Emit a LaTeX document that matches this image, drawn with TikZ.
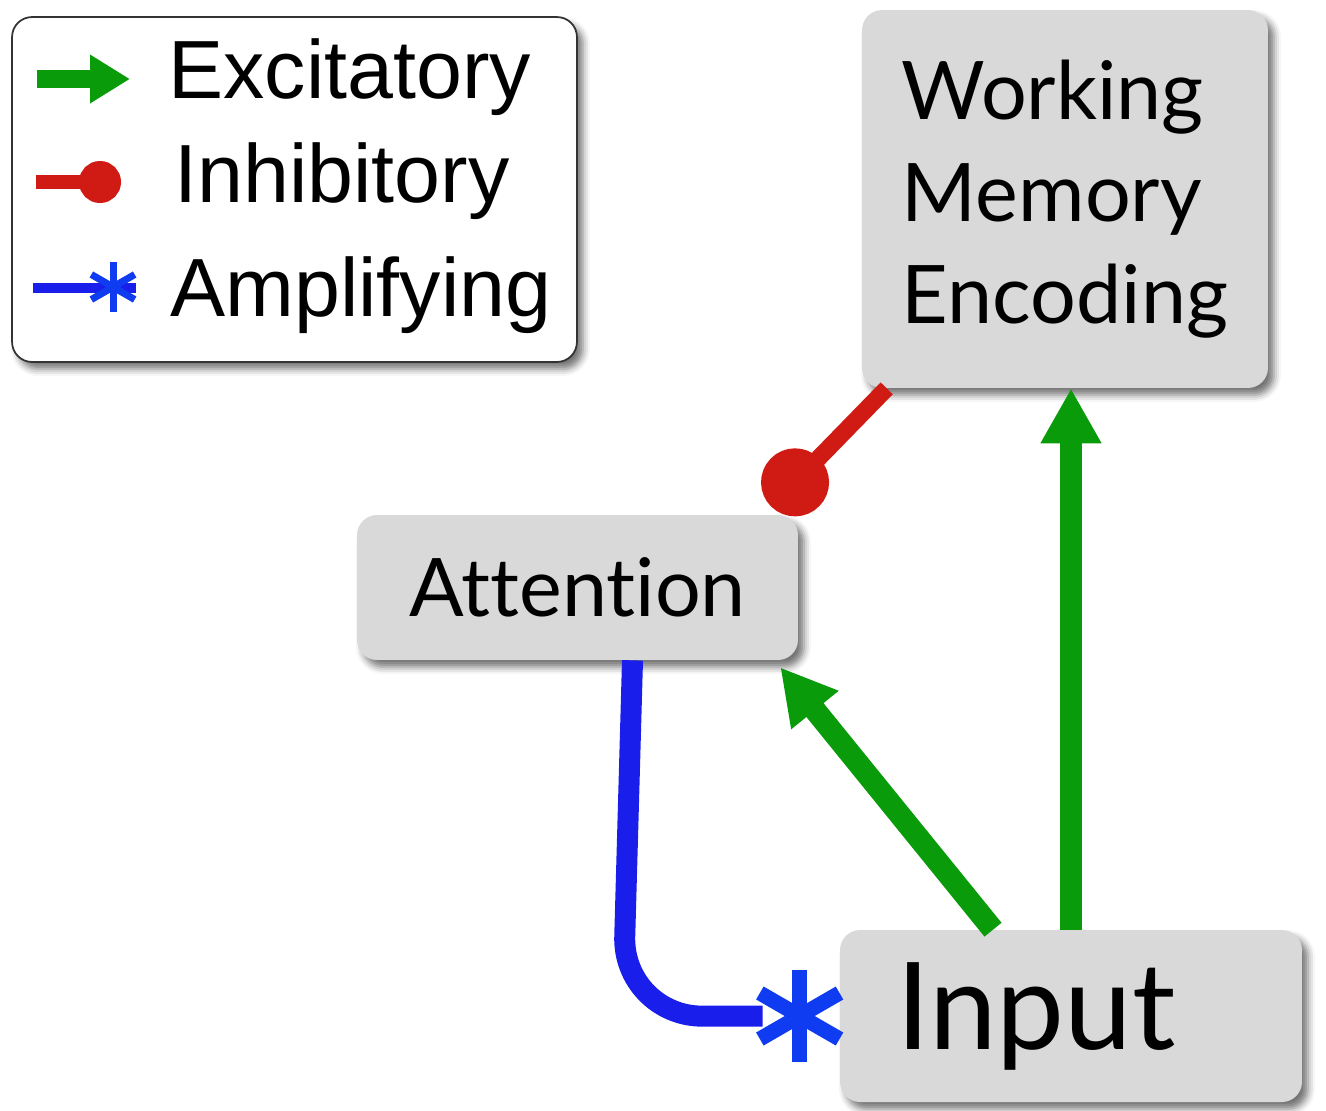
\documentclass[tikz,border=0pt]{standalone}
\usepackage{fontspec}
\setmainfont{Liberation Sans}
\newfontfamily\boxfont[Ligatures=NoCommon]{Lato}
\usetikzlibrary{arrows.meta,calc,shadows.blur}
\definecolor{excgreen}{RGB}{10,155,10}
\definecolor{inhred}{RGB}{208,26,20}
\definecolor{ampblue}{RGB}{25,30,235}
\definecolor{starblue}{RGB}{15,60,240}
\definecolor{boxgray}{RGB}{217,217,217}
\tikzset{
  sombra/.style={blur shadow={shadow xshift=0.12cm, shadow yshift=-0.14cm, shadow blur radius=0.14cm, shadow opacity=55}},
  caja/.style={rounded corners=0.4cm, fill=boxgray, sombra, inner sep=0pt, font=\boxfont\fontsize{46}{58}\selectfont},
  leyenda/.style={anchor=base west, inner sep=0pt, font=\fontsize{47}{56}\selectfont},
  exc/.style={draw=excgreen, line width=0.44cm, -{Triangle[length=1.1cm,width=1.14cm]}},
  inh/.style={draw=inhred, line width=0.34cm, -{Circle[length=1.36cm]}},
  amp/.style={draw=ampblue, line width=0.42cm},
  pics/ampstar/.style 2 args={code={
    \foreach \ang in {90,30,-30}
      \draw[starblue, line width=#2] (\ang:#1) -- (\ang+180:#1);
  }}
}
\begin{document}
\begin{tikzpicture}[x=0.02cm, y=-0.02cm]
\useasboundingbox (0,0) rectangle (1326,1110);
% Leyenda
\node[draw=black!80, line width=1pt, rounded corners=0.4cm, fill=white, sombra,
  minimum width=11.3cm, minimum height=6.9cm] (ley) at (294.5,189.5) {};
\node[leyenda] (lexc) at (168,98) {Excitatory};
\node[leyenda] (linh) at (174,202) {Inhibitory};
\node[leyenda] (lamp) at (170,316) {Amplifying};
% Simbolos de la leyenda
\coordinate (le0) at (37,79);   \coordinate (le1) at (130,79);
\coordinate (li0) at (36,182);  \coordinate (li1) at (121,182);
\coordinate (la0) at (33,288);  \coordinate (la1) at (136,288);
\draw[excgreen, line width=0.36cm, -{Triangle[length=0.8cm,width=0.92cm]}] (le0) -- (le1);
\draw[inhred, line width=0.28cm, -{Circle[length=0.84cm]}] (li0) -- (li1);
\draw[ampblue, line width=0.2cm] (la0) -- (la1);
\pic at (113,287) {ampstar={25}{0.14cm}};
% Cajas
\node[caja, minimum width=8.12cm, minimum height=7.56cm, align=left] (wm) at (1065,199) {Working\\Memory\\Encoding};
\node[caja, minimum width=8.82cm, minimum height=2.9cm] (att) at (577.5,587.5) {Attention};
\node[caja, minimum height=3.44cm, text width=7cm, inner xsep=1.12cm, align=left,
  font=\boxfont\fontsize{69}{80}\selectfont] (inp) at (1071,1016) {Input};
% Conexiones excitatorias (Input -> WM, Input -> Attention)
\draw[exc] (inp.north) -- (inp.north |- wm.south);
\draw[exc] ($(inp.north)+(-78,0)$) -- ($(att.south east)+(-18,7)$);
% Conexion inhibitoria (WM -o Attention)
\draw[inh] ($(wm.south west)+(25,0)$) -- ($(att.north east)+(-27,-8)$);
% Conexion amplificadora (Attention -* Input)
\coordinate (ampfin) at ($(inp.west)+(-77,0)$);
\draw[amp, rounded corners=1.6cm] ($(att.south)+(55,0)$) -- ++(-10,356) -- (ampfin);
\pic at ($(inp.west)+(-40,0)$) {ampstar={46}{0.3cm}};
\end{tikzpicture}
\end{document}
